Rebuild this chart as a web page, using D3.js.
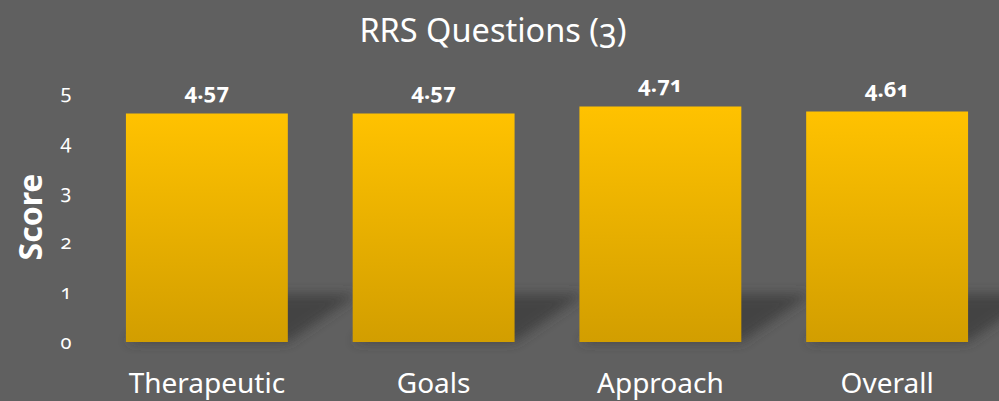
<!DOCTYPE html>
<html>
<head>
<meta charset="utf-8">
<script src="https://cdn.jsdelivr.net/npm/d3@7"></script>
<style>
  html, body { margin: 0; padding: 0; background: #606060; }
  svg { display: block; font-family: "Noto Sans", "Open Sans", sans-serif; }
  .num { font-variant-numeric: oldstyle-nums; font-feature-settings: "onum" 1; }
</style>
</head>
<body>
<div id="box"></div>
<script>
// chart data
var categories = ["Therapeutic", "Goals", "Approach", "Overall"];
var scores = [4.57, 4.57, 4.71, 4.61];
var yTicks = [0, 1, 2, 3, 4, 5];
var title = "RRS Questions (3)";
var yLabel = "Score";

var width = 999, height = 401;

var svg = d3.select("#box")
    .append("svg")
    .attr("width", width)
    .attr("height", height);

svg.append("rect")
    .attr("width", width)
    .attr("height", height)
    .attr("fill", "#606060");

var defs = svg.append("defs");

var grad = defs.append("linearGradient")
    .attr("id", "barFill")
    .attr("x1", 0).attr("y1", 0)
    .attr("x2", 0).attr("y2", 1);
grad.append("stop").attr("offset", "0%").attr("stop-color", "#ffc200");
grad.append("stop").attr("offset", "100%").attr("stop-color", "#d29e00");

defs.append("filter")
    .attr("id", "blur")
    .attr("x", "-50%").attr("y", "-50%")
    .attr("width", "200%").attr("height", "200%")
    .append("feGaussianBlur")
    .attr("stdDeviation", 6);

// scales
var x = d3.scaleBand()
    .domain(categories)
    .range([93.5, 1000.5])
    .paddingInner(0.286)
    .paddingOuter(0.143);

var y = d3.scaleLinear()
    .domain([0, 5])
    .range([342, 92]);

// floor shadows behind the bars
svg.append("g")
    .attr("filter", "url(#blur)")
    .selectAll("path")
    .data(categories)
    .enter()
    .append("path")
    .attr("d", function(d) {
        var x0 = x(d), x1 = x(d) + x.bandwidth(), b = y(0);
        return "M" + x0 + "," + b +
            "L" + x1 + "," + b +
            "L" + (x1 + 70) + "," + (b - 48) +
            "L" + (x0 + 70) + "," + (b - 48) + "Z";
    })
    .attr("fill", "#3a3a3a")
    .attr("opacity", 0.75);

// bars
svg.selectAll(".bar")
    .data(scores)
    .enter()
    .append("rect")
    .attr("class", "bar")
    .attr("x", function(d, i) { return x(categories[i]); })
    .attr("y", function(d) { return y(d); })
    .attr("width", x.bandwidth())
    .attr("height", function(d) { return y(0) - y(d); })
    .attr("fill", "url(#barFill)");

// value labels
svg.selectAll(".val")
    .data(scores)
    .enter()
    .append("text")
    .attr("class", "val num")
    .attr("x", function(d, i) { return x(categories[i]) + x.bandwidth() / 2; })
    .attr("y", function(d) { return y(d) - 15; })
    .attr("text-anchor", "middle")
    .attr("font-size", 22)
    .attr("font-weight", "bold")
    .attr("fill", "#ffffff")
    .text(function(d) { return d.toFixed(2); });

// y axis
var yAxis = svg.append("g")
    .attr("transform", "translate(66,0)")
    .call(d3.axisLeft(y).tickValues(yTicks).tickFormat(d3.format("d")).tickSize(0).tickPadding(0));
yAxis.select(".domain").remove();
yAxis.selectAll("text")
    .attr("class", "num")
    .attr("text-anchor", "middle")
    .attr("font-family", "Noto Sans, Open Sans, sans-serif")
    .attr("font-size", 20)
    .attr("fill", "#ffffff");

// x axis
var xAxis = svg.append("g")
    .attr("transform", "translate(0," + 393 + ")")
    .call(d3.axisBottom(x).tickSize(0).tickPadding(0));
xAxis.select(".domain").remove();
xAxis.selectAll("text")
    .attr("dy", 0)
    .attr("font-family", "Noto Sans, Open Sans, sans-serif")
    .attr("font-size", 28)
    .attr("fill", "#ffffff");

// titles
svg.append("text")
    .attr("class", "num")
    .attr("x", 493)
    .attr("y", 42)
    .attr("text-anchor", "middle")
    .attr("font-size", 32.5)
    .attr("fill", "#ffffff")
    .text(title);

svg.append("text")
    .attr("transform", "translate(42,217) rotate(-90)")
    .attr("text-anchor", "middle")
    .attr("font-size", 32)
    .attr("font-weight", "bold")
    .attr("fill", "#ffffff")
    .text(yLabel);
</script>
</body>
</html>
